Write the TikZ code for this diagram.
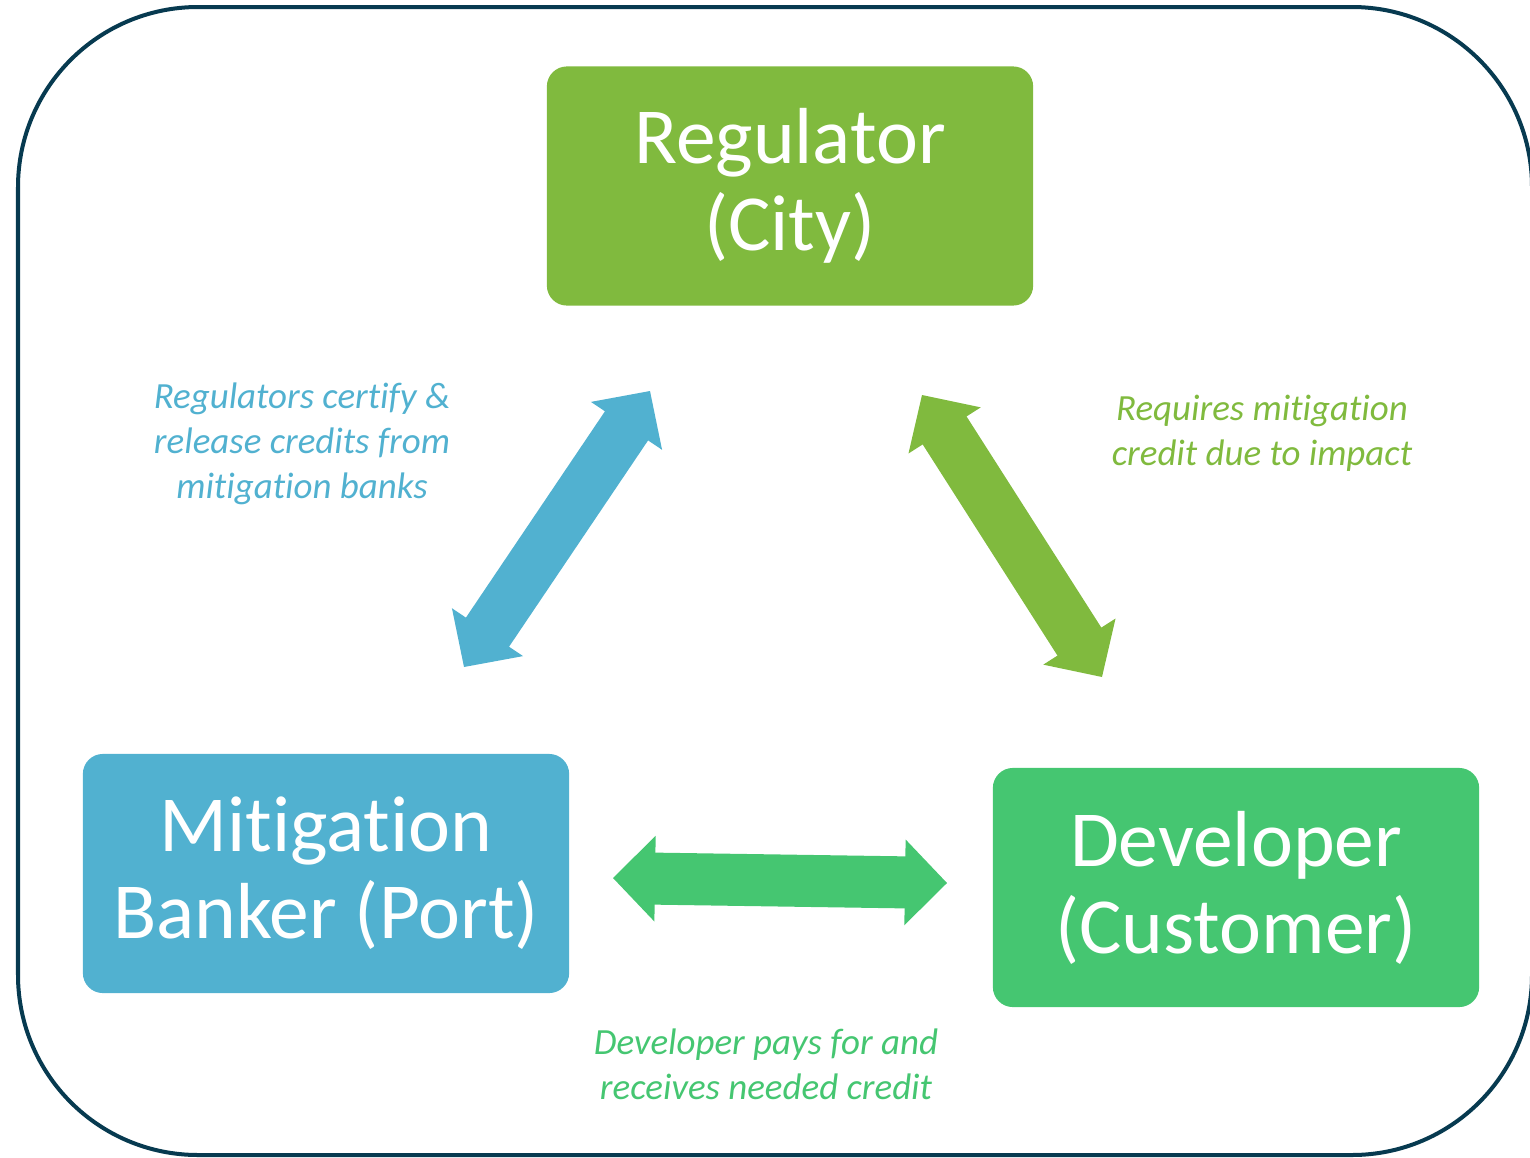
\documentclass[tikz,border=0pt]{standalone}
\usepackage{fontspec}
\setmainfont{Carlito}[Ligatures={NoCommon}]
\usepackage{xcolor}
\usetikzlibrary{positioning}
\usetikzlibrary{arrows.meta}
\definecolor{frameNavy}{RGB}{7,58,80}
\definecolor{cityGreen}{RGB}{128,186,62}
\definecolor{portBlue}{RGB}{81,177,208}
\definecolor{custGreen}{RGB}{69,198,113}

\begin{document}
\begin{tikzpicture}[x=0.01cm, y=-0.01cm, font=\fontsize{22.6}{24.75}\selectfont]
    \tikzstyle{box}=[rectangle, rounded corners=2mm, minimum width=4.86cm, minimum height=2.39cm, inner sep=0pt, text=white, align=center]
    \tikzstyle{link}=[line width=5.2mm, {Triangle[length=4.2mm, width=8.5mm, line width=1pt]}-{Triangle[length=4.2mm, width=8.5mm, line width=1pt]}]
    \tikzstyle{note}=[align=center, inner sep=0pt, font=\fontsize{10.5}{12.8}\selectfont\itshape]

    \useasboundingbox (0,0) rectangle (1530,1157);
    \draw[frameNavy, line width=0.4mm, rounded corners=1.8cm] (18,7) rectangle (1532,1155);

    \node[box, fill=cityGreen] (reg) at (790,186) {Regulator\\(City)};
    \node[box, fill=portBlue] (bank) at (326,873.5) {Mitigation\\Banker (Port)};
    \node[box, fill=custGreen] (dev) at (1236,887.5) {Developer\\(Customer)};

    \coordinate (bank1) at (464,667);
    \coordinate (reg1) at (650,391);
    \coordinate (reg2) at (922,395);
    \coordinate (dev1) at (1102,677);
    \coordinate (bank2) at (613,878);
    \coordinate (dev2) at (947,883);

    \path (bank1) edge[link, draw=portBlue] (reg1);
    \path (reg2) edge[link, draw=cityGreen] (dev1);
    \path (bank2) edge[link, draw=custGreen] (dev2);

    \node[note, text=portBlue] (certify) at (302,444) {Regulators certify \&\\release credits from\\mitigation banks};
    \node[note, text=cityGreen] (requires) at (1262,433) {Requires mitigation\\credit due to impact};
    \node[note, text=custGreen] (pays) at (766,1064) {Developer pays for and\\receives needed credit};
\end{tikzpicture}
\end{document}
